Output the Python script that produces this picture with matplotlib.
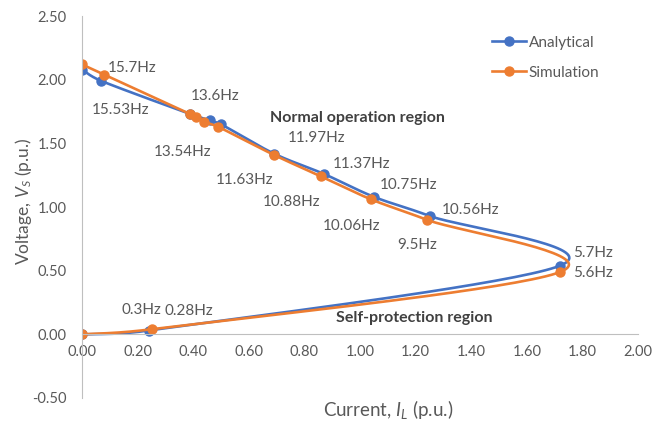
import numpy as np
import matplotlib.pyplot as plt

plt.rcParams["font.family"] = ["Lato", "DejaVu Sans"]
plt.rcParams["mathtext.fontset"] = "custom"
plt.rcParams["mathtext.rm"] = "Lato"
plt.rcParams["mathtext.it"] = "Lato:italic"

# Operating points (load current vs. source voltage), in sweep order
analytical_i = [0.00, 0.07, 0.39, 0.46, 0.50, 0.69, 0.87, 1.05, 1.25, 1.72, 0.24, 0.00]
analytical_v = [2.08, 1.99, 1.73, 1.68, 1.65, 1.42, 1.26, 1.08, 0.93, 0.54, 0.03, 0.00]

simulation_i = [0.00, 0.08, 0.39, 0.41, 0.44, 0.49, 0.69, 0.86, 1.04, 1.24, 1.72, 0.25, 0.00]
simulation_v = [2.12, 2.04, 1.73, 1.71, 1.67, 1.63, 1.41, 1.24, 1.06, 0.90, 0.49, 0.04, 0.00]

# Frequency annotations
freq_labels = ["15.7Hz", "15.53Hz", "13.6Hz", "13.54Hz", "11.97Hz", "11.63Hz",
               "11.37Hz", "10.88Hz", "10.75Hz", "10.56Hz", "10.06Hz", "9.5Hz",
               "5.7Hz", "5.6Hz", "0.3Hz", "0.28Hz"]
freq_pos = [(0.18, 2.09), (0.14, 1.76), (0.48, 1.875), (0.36, 1.43),
            (0.842, 1.54), (0.586, 1.21), (1.004, 1.34), (0.755, 1.04),
            (1.173, 1.17), (1.396, 0.98), (0.968, 0.85), (1.205, 0.70),
            (1.838, 0.64), (1.838, 0.48), (0.213, 0.195), (0.384, 0.18)]

BLUE = "#4472C4"
ORANGE = "#ED7D31"
TXT = "#595959"


def smooth(xs, ys, n=40):
    # spreadsheet-style smoothed line: cubic Bezier with Catmull-Rom tangents,
    # tangent handles capped at half the segment length
    p = np.column_stack([xs, ys]).astype(float)
    out = []
    for i in range(len(p) - 1):
        p0 = p[i - 1] if i > 0 else p[i]
        p3 = p[i + 2] if i + 2 < len(p) else p[i + 1]
        chord = np.linalg.norm(p[i + 1] - p[i])
        d1 = (p[i + 1] - p0) / 6
        d2 = (p3 - p[i]) / 6
        for d in (d1, d2):
            L = np.linalg.norm(d)
            if L > 0.5 * chord:
                d *= 0.5 * chord / L
        c1 = p[i] + d1
        c2 = p[i + 1] - d2
        t = np.linspace(0, 1, n)[:, None]
        seg = ((1 - t) ** 3 * p[i] + 3 * (1 - t) ** 2 * t * c1
               + 3 * (1 - t) * t ** 2 * c2 + t ** 3 * p[i + 1])
        out.append(seg)
    out = np.vstack(out)
    return out[:, 0], out[:, 1]


fig = plt.figure(figsize=(6.52, 4.22), dpi=100)
ax = fig.add_axes([0.1258, 0.0569, 0.8528, 0.905])

for xs, ys, c, name in [(analytical_i, analytical_v, BLUE, "Analytical"),
                        (simulation_i, simulation_v, ORANGE, "Simulation")]:
    sx, sy = smooth(xs, ys)
    ax.plot(sx, sy, color=c, lw=1.9, solid_capstyle="round")
    ax.plot(xs, ys, "o", color=c, ms=6.5)
    ax.plot([], [], "-o", color=c, lw=1.9, ms=6.5, label=name)

for lab, (x, y) in zip(freq_labels, freq_pos):
    ax.text(x, y, lab, ha="center", va="center", fontsize=11, color=TXT)

ax.text(0.989, 1.70, "Normal operation region", ha="center", va="center",
        fontsize=11.5, fontweight="bold", color="#404040")
ax.text(1.194, 0.13, "Self-protection region", ha="center", va="center",
        fontsize=11.5, fontweight="bold", color="#404040")

ax.set_xlim(0, 2.0)
ax.set_ylim(-0.5, 2.5)
ax.set_xticks(np.arange(0, 2.01, 0.2))
ax.set_yticks(np.arange(-0.5, 2.51, 0.5))
ax.xaxis.set_major_formatter(plt.FormatStrFormatter("%.2f"))
ax.yaxis.set_major_formatter(plt.FormatStrFormatter("%.2f"))
ax.tick_params(axis="both", length=0, labelsize=10.5, labelcolor=TXT)
ax.tick_params(axis="x", pad=8)
ax.tick_params(axis="y", pad=11)

for s in ["top", "right"]:
    ax.spines[s].set_visible(False)
ax.spines["bottom"].set_position(("data", 0))
ax.spines["bottom"].set_color("#BFBFBF")
ax.spines["left"].set_color("#BFBFBF")

ax.set_xlabel(r"Current, $\mathit{I}_{L}$ (p.u.)", fontsize=13.5, color=TXT)
ax.xaxis.set_label_coords(0.55, -0.03)
ax.xaxis.label.set_va("center")
ax.set_ylabel(r"Voltage, $\mathit{V}_{S}$ (p.u.)", fontsize=12.5, color=TXT)
ax.yaxis.set_label_coords(-0.105, 0.515)
ax.yaxis.label.set_va("center")

leg = ax.legend(loc="upper right", bbox_to_anchor=(0.955, 0.985), frameon=False,
                fontsize=11, handlelength=2.2, handletextpad=0.2,
                labelspacing=1.05)
for t in leg.get_texts():
    t.set_color(TXT)

fig.savefig("out.png", dpi=100)
